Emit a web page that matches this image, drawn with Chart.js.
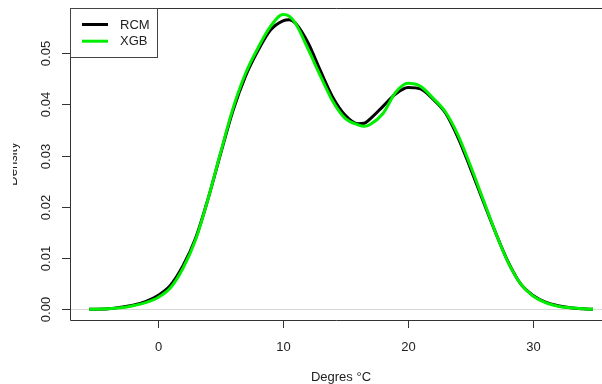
<!DOCTYPE html>
<html>
<head>
<meta charset="utf-8">
<script src="https://cdn.jsdelivr.net/npm/chart.js@4/dist/chart.umd.min.js"></script>
<style>
  html, body { margin: 0; padding: 0; background: #fff; }
  #wrap { width: 602px; height: 384px; }
</style>
</head>
<body>
<div id="wrap"><canvas id="densityChart" width="602" height="384"></canvas></div>
<script>
// temperature grid (degrees C) and density estimates
const temps = [-5.5, -4, -3, -2, -1, 0, 1, 2, 3, 4, 5, 6, 7, 8, 9, 10, 10.5, 11, 12, 13, 14, 15, 16, 16.5, 17, 18, 19, 20, 21, 22, 23, 24, 25, 26, 27, 28, 29, 30, 31, 32, 33, 34, 34.8];
const rcm = [0, 0.0001, 0.0004, 0.0008, 0.0015, 0.0027, 0.0047, 0.0085, 0.0138, 0.0215, 0.0303, 0.0388, 0.0455, 0.0505, 0.0545, 0.0563, 0.0565, 0.0558, 0.0520, 0.0465, 0.0413, 0.0378, 0.0362, 0.0363, 0.0372, 0.0396, 0.0420, 0.0433, 0.0430, 0.0410, 0.0383, 0.0335, 0.0275, 0.0212, 0.0150, 0.0093, 0.0050, 0.0027, 0.0014, 0.0007, 0.0003, 0.0001, 0];
const xgb = [0, 0.0001, 0.0003, 0.0007, 0.0013, 0.0023, 0.0042, 0.0080, 0.0135, 0.0215, 0.0305, 0.0392, 0.0460, 0.0510, 0.0552, 0.0575, 0.0572, 0.0558, 0.0508, 0.0455, 0.0405, 0.0372, 0.0360, 0.0357, 0.0361, 0.0382, 0.0423, 0.0441, 0.0435, 0.0412, 0.0385, 0.0340, 0.0280, 0.0215, 0.0150, 0.0092, 0.0050, 0.0026, 0.0013, 0.0006, 0.0003, 0.0001, 0];

const xTicks = [0, 10, 20, 30];
const yTicks = [0, 0.01, 0.02, 0.03, 0.04, 0.05];
const xTitle = "Degres °C";
const yTitle = "Density";

const FONT = '13px "Liberation Sans", Arial, sans-serif';

function pts(ys) {
  return temps.map((t, i) => ({ x: t, y: ys[i] }));
}

// R style axes, box and legend drawn over the chart area
const rAxes = {
  id: "rAxes",
  beforeDatasetsDraw(chart) {
    const { ctx, chartArea: a, scales: { y } } = chart;
    const y0 = y.getPixelForValue(0);
    ctx.save();
    ctx.strokeStyle = "#d8d8d8";
    ctx.lineWidth = 1;
    ctx.beginPath();
    ctx.moveTo(a.left, Math.round(y0) + 0.5);
    ctx.lineTo(a.right, Math.round(y0) + 0.5);
    ctx.stroke();
    ctx.restore();
  },
  afterDraw(chart) {
    const { ctx, chartArea: a, scales: { x, y } } = chart;
    ctx.save();
    ctx.strokeStyle = "#333";
    ctx.lineWidth = 1;
    // box (right side falls outside the picture)
    ctx.beginPath();
    ctx.moveTo(a.right + 1, a.top + 0.5);
    ctx.lineTo(a.left + 0.5, a.top + 0.5);
    ctx.lineTo(a.left + 0.5, a.bottom + 0.5);
    ctx.lineTo(a.right + 1, a.bottom + 0.5);
    ctx.stroke();

    ctx.fillStyle = "#222";
    ctx.font = FONT;
    // x ticks
    ctx.textAlign = "center";
    ctx.textBaseline = "middle";
    xTicks.forEach(v => {
      const px = Math.round(x.getPixelForValue(v)) + 0.5;
      ctx.beginPath();
      ctx.moveTo(px, a.bottom);
      ctx.lineTo(px, a.bottom + 8);
      ctx.stroke();
      ctx.fillText(String(v), px, 347);
    });
    ctx.fillText(xTitle, 341, 377);

    // y ticks, labels rotated like R's las=0
    yTicks.forEach(v => {
      const py = Math.round(y.getPixelForValue(v)) + 0.5;
      ctx.beginPath();
      ctx.moveTo(a.left - 8, py);
      ctx.lineTo(a.left, py);
      ctx.stroke();
      ctx.save();
      ctx.translate(46, py);
      ctx.rotate(-Math.PI / 2);
      ctx.fillText(v.toFixed(2), 0, 0);
      ctx.restore();
    });

    // y title, cut at the left edge as in the picture
    ctx.save();
    ctx.beginPath();
    ctx.rect(13, 0, 40, 384);
    ctx.clip();
    ctx.translate(13, (a.top + a.bottom) / 2);
    ctx.rotate(-Math.PI / 2);
    ctx.fillText(yTitle, 0, 0);
    ctx.restore();

    // legend
    const lx = a.left, ly = a.top, lw = 87, lh = 49;
    ctx.fillStyle = "#fff";
    ctx.fillRect(lx, ly, lw, lh);
    ctx.strokeStyle = "#444";
    ctx.strokeRect(lx + 0.5, ly + 0.5, lw, lh);
    ctx.textAlign = "left";
    chart.data.datasets.forEach((ds, i) => {
      const yy = 24.5 + i * 16.7;
      ctx.strokeStyle = ds.borderColor;
      ctx.lineWidth = 3;
      ctx.beginPath();
      ctx.moveTo(82, yy);
      ctx.lineTo(108, yy);
      ctx.stroke();
      ctx.fillStyle = "#222";
      ctx.fillText(ds.label, 120, yy + 0.5);
    });
    ctx.restore();
  }
};

new Chart(document.getElementById("densityChart"), {
  type: "line",
  data: {
    datasets: [
      { label: "RCM", data: pts(rcm), borderColor: "#000000", borderWidth: 3, order: 1 },
      { label: "XGB", data: pts(xgb), borderColor: "#00ee00", borderWidth: 3, order: 0 }
    ]
  },
  options: {
    responsive: false,
    animation: false,
    devicePixelRatio: 1,
    layout: { padding: { left: 70, top: 8, right: 0, bottom: 64 } },
    elements: {
      point: { radius: 0 },
      line: { cubicInterpolationMode: "monotone", fill: false }
    },
    plugins: { legend: { display: false }, tooltip: { enabled: false } },
    scales: {
      x: { type: "linear", min: -7.04, max: 35.52, display: false },
      y: { type: "linear", min: -0.00209, max: 0.05879, display: false }
    }
  },
  plugins: [rAxes]
});
</script>
</body>
</html>
